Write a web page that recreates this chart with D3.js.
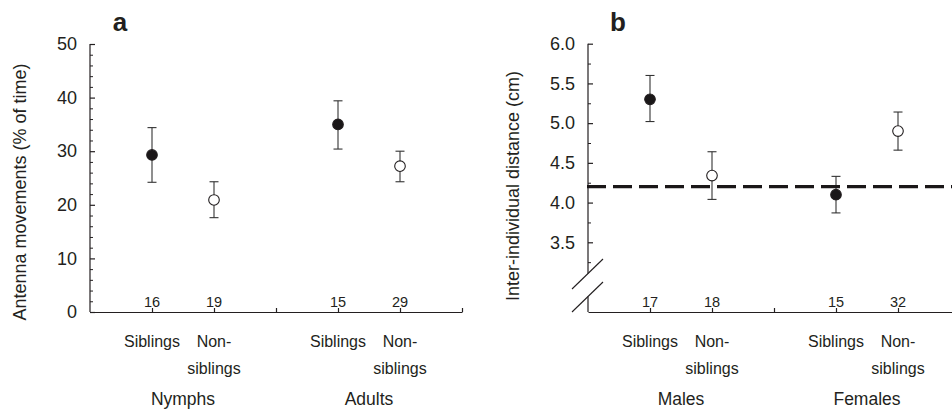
<!DOCTYPE html>
<html lang="en">
<head>
<meta charset="utf-8">
<title>Antenna movements and inter-individual distance</title>
<script src="https://cdn.jsdelivr.net/npm/d3@7"></script>
<style>
  body { margin: 0; background: #fff; font-family: "Liberation Sans", Arial, Helvetica, sans-serif; }
  text { fill: #231f20; }
  .axis path, .axis line { stroke: #231f20; }
</style>
</head>
<body>
<svg id="chart" width="952" height="412"></svg>
<script>
// categories (same order in both panels)
var catLabels = [["Siblings"], ["Non-", "siblings"], ["Siblings"], ["Non-", "siblings"]];
var filled = [true, false, true, false];
var groupsA = ["Nymphs", "Adults"];
var groupsB = ["Males", "Females"];

// panel a: antenna movements (% of time)
var meanA = [29.3, 20.9, 35.0, 27.2];
var lowA = [24.2, 17.6, 30.4, 24.3];
var highA = [34.4, 24.3, 39.4, 30.0];
var nA = [16, 19, 15, 29];
var ticksA = [0, 10, 20, 30, 40, 50];

// panel b: inter-individual distance (cm)
var meanB = [5.30, 4.34, 4.10, 4.90];
var lowB = [5.02, 4.04, 3.87, 4.66];
var highB = [5.60, 4.64, 4.33, 5.14];
var nB = [17, 18, 15, 32];
var ticksB = [3.5, 4.0, 4.5, 5.0, 5.5, 6.0];
var refB = 4.2;

// slot on the x axis for each category, and for each group label
var slots = [1, 2, 4, 5];
var groupSlots = [1.5, 4.5];

var svg = d3.select("#chart");
var baseY = 312;

function panel(o) {
  var x = d3.scaleLinear().domain([0, 6]).range([o.left, o.left + 372]);
  var g = svg.append("g");

  // x axis, ticks pointing up
  g.append("g").attr("class", "axis")
    .attr("transform", "translate(0," + baseY + ")")
    .call(d3.axisBottom(x).tickValues([1, 2, 3, 4, 5, 6]).tickSize(-4).tickSizeOuter(0).tickFormat(""))
    .call(function(a){ a.selectAll("path, line").attr("stroke-width", 1.2); });

  // y axis: major ticks with labels, minor ticks
  var yAx = g.append("g").attr("class", "axis")
    .attr("transform", "translate(" + o.left + ",0)")
    .call(d3.axisLeft(o.y).tickValues(o.ticks).tickSize(-5).tickPadding(13).tickFormat(o.fmt));
  yAx.select(".domain").remove();
  yAx.selectAll("text").attr("font-size", 18).attr("font-family", "Liberation Sans, Arial, sans-serif").style("fill", "#231f20");
  yAx.selectAll("line").attr("stroke-width", 1.2);

  var mAx = g.append("g").attr("class", "axis")
    .attr("transform", "translate(" + o.left + ",0)")
    .call(d3.axisLeft(o.y).tickValues(o.minor).tickSize(-3).tickFormat(""));
  mAx.select(".domain").remove();
  mAx.selectAll("line").attr("stroke-width", 1);

  // y axis line (with optional break)
  o.segments.forEach(function(s) {
    g.append("line").attr("x1", o.left).attr("x2", o.left)
      .attr("y1", s[0]).attr("y2", s[1])
      .attr("stroke", "#231f20").attr("stroke-width", 1.2);
  });

  // error bars
  var pts = g.selectAll(".pt").data(o.mean).enter().append("g").attr("class", "pt");
  pts.append("line")
    .attr("x1", function(d, i){ return x(slots[i]); })
    .attr("x2", function(d, i){ return x(slots[i]); })
    .attr("y1", function(d, i){ return o.y(o.high[i]); })
    .attr("y2", function(d, i){ return o.y(o.low[i]); })
    .attr("stroke", "#333").attr("stroke-width", 1.1);
  [o.high, o.low].forEach(function(arr) {
    pts.append("line")
      .attr("x1", function(d, i){ return x(slots[i]) - 4.5; })
      .attr("x2", function(d, i){ return x(slots[i]) + 4.5; })
      .attr("y1", function(d, i){ return o.y(arr[i]); })
      .attr("y2", function(d, i){ return o.y(arr[i]); })
      .attr("stroke", "#333").attr("stroke-width", 1.1);
  });
  pts.append("circle")
    .attr("cx", function(d, i){ return x(slots[i]); })
    .attr("cy", function(d){ return o.y(d); })
    .attr("r", 5.3)
    .attr("fill", function(d, i){ return filled[i] ? "#1a1718" : "#fff"; })
    .attr("stroke", "#231f20").attr("stroke-width", 1.1);

  // sample sizes
  g.selectAll(".n").data(o.n).enter().append("text")
    .attr("x", function(d, i){ return x(slots[i]); })
    .attr("y", baseY - 5)
    .attr("text-anchor", "middle").attr("font-size", 14.5)
    .text(function(d){ return d; });

  // category labels
  g.selectAll(".cat").data(catLabels).enter().append("text")
    .attr("x", function(d, i){ return x(slots[i]); })
    .attr("y", 347)
    .attr("text-anchor", "middle").attr("font-size", 16)
    .each(function(d) {
      var t = d3.select(this);
      d.forEach(function(line, k) {
        t.append("tspan").attr("x", t.attr("x")).attr("dy", k ? 27 : 0).text(line);
      });
    });

  // group labels
  g.selectAll(".grp").data(o.groups).enter().append("text")
    .attr("x", function(d, i){ return x(groupSlots[i]); })
    .attr("y", 405)
    .attr("text-anchor", "middle").attr("font-size", 17.5)
    .text(function(d){ return d; });

  // y title and panel letter
  g.append("text")
    .attr("transform", "translate(" + (o.left - o.titleOff) + "," + o.titleY + ") rotate(-90)")
    .attr("text-anchor", "middle").attr("dominant-baseline", "central")
    .attr("font-size", 18).text(o.title);
  g.append("text")
    .attr("x", o.left + 30).attr("y", 31)
    .attr("text-anchor", "middle").attr("font-size", 26).attr("font-weight", "bold")
    .text(o.letter);

  return {x: x, g: g};
}

// panel a
var yA = d3.scaleLinear().domain([0, 50]).range([baseY, 44]);
panel({
  left: 90, y: yA, ticks: ticksA, fmt: d3.format("d"),
  minor: d3.range(0, 50, 2).filter(function(v){ return v % 10; }),
  segments: [[yA(50), baseY]],
  mean: meanA, low: lowA, high: highA, n: nA, groups: groupsA,
  title: "Antenna movements (% of time)", titleOff: 70, titleY: 192, letter: "a"
});

// panel b (broken axis below 3.5)
var yB = d3.scaleLinear().domain([3.5, 6]).range([242.3, 43.7]);
var pb = panel({
  left: 588, y: yB, ticks: ticksB, fmt: d3.format(".1f"),
  minor: d3.range(3.25, 6, 0.5),
  segments: [[yB(6), 273.5], [296.5, baseY]],
  mean: meanB, low: lowB, high: highB, n: nB, groups: groupsB,
  title: "Inter-individual distance (cm)", titleOff: 75, titleY: 186, letter: "b"
});

// break marks
[[289, 259], [312, 282]].forEach(function(s) {
  pb.g.append("line")
    .attr("x1", 572).attr("y1", s[0]).attr("x2", 603).attr("y2", s[1])
    .attr("stroke", "#231f20").attr("stroke-width", 1.1);
});

// reference line
pb.g.append("line")
  .attr("x1", 587).attr("x2", 952)
  .attr("y1", yB(refB)).attr("y2", yB(refB))
  .attr("stroke", "#1a1718").attr("stroke-width", 3.3)
  .attr("stroke-dasharray", "19,7");
</script>
</body>
</html>
